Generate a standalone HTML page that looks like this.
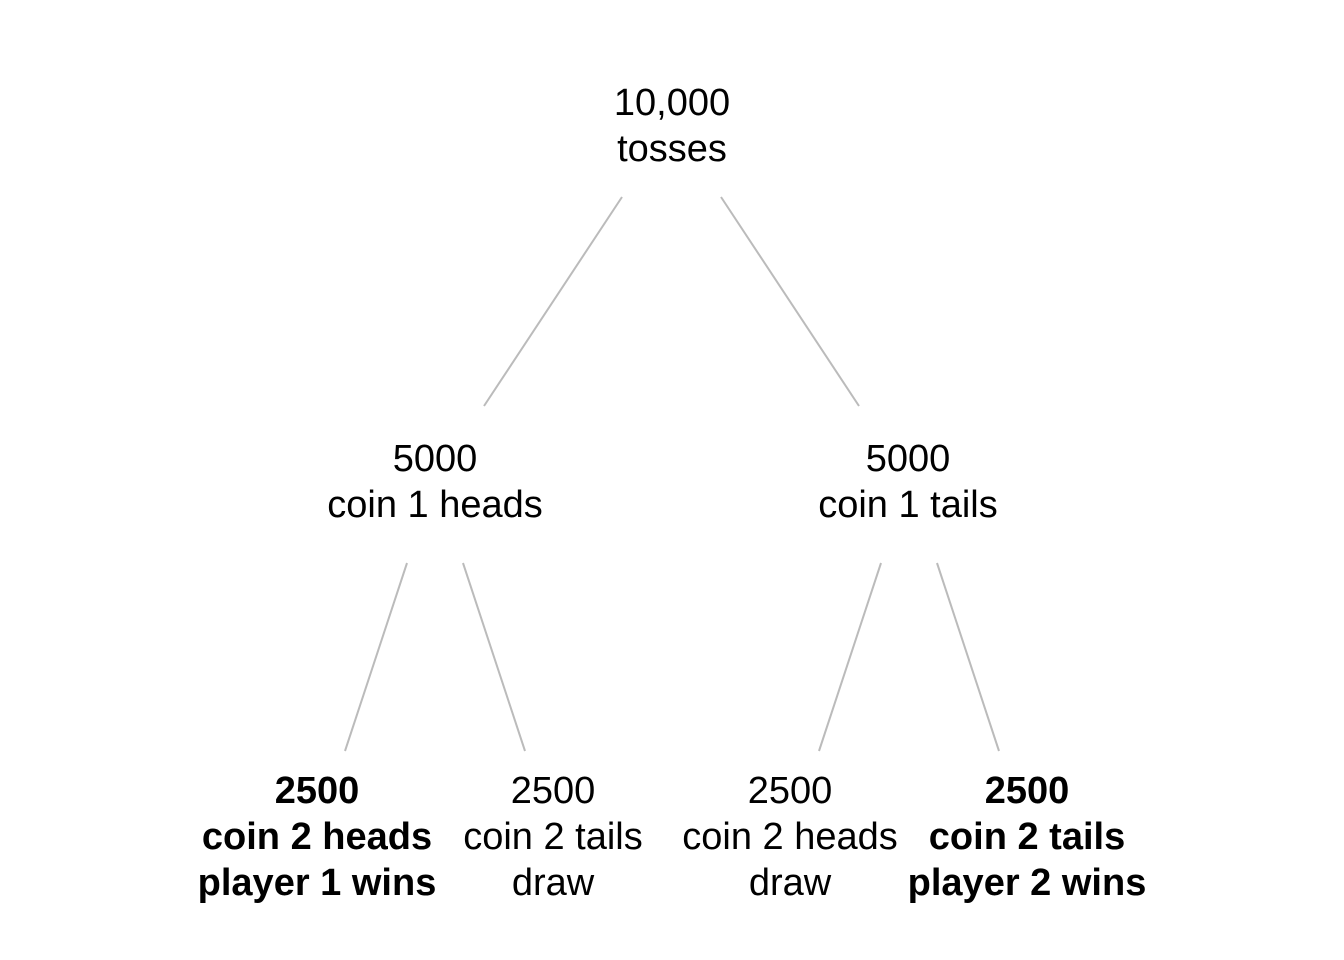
<!DOCTYPE html>
<html><head><style>
body{margin:0;width:1344px;height:960px;background:#fff;position:relative;font-family:"Liberation Sans",Arial,sans-serif;}
.t{position:absolute;width:400px;margin-left:-200px;text-align:center;font-size:38px;line-height:46px;color:#000;}
.b{font-weight:bold;}
svg{position:absolute;left:0;top:0;}
</style></head><body>
<svg width="1344" height="960"><g stroke="#bbb" stroke-width="2">
<line x1="622" y1="197" x2="484" y2="406"/>
<line x1="721" y1="197" x2="859" y2="406"/>
<line x1="407" y1="563" x2="345" y2="751"/>
<line x1="463" y1="563" x2="525" y2="751"/>
<line x1="881" y1="563" x2="819" y2="751"/>
<line x1="937" y1="563" x2="999" y2="751"/>
</g></svg>
<div class="t" style="left:672px;top:80px">10,000<br>tosses</div>
<div class="t" style="left:435px;top:436px">5000<br>coin 1 heads</div>
<div class="t" style="left:908px;top:436px">5000<br>coin 1 tails</div>
<div class="t b" style="left:317px;top:768px">2500<br>coin 2 heads<br>player 1 wins</div>
<div class="t" style="left:553px;top:768px">2500<br>coin 2 tails<br>draw</div>
<div class="t" style="left:790px;top:768px">2500<br>coin 2 heads<br>draw</div>
<div class="t b" style="left:1027px;top:768px">2500<br>coin 2 tails<br>player 2 wins</div>
</body></html>
